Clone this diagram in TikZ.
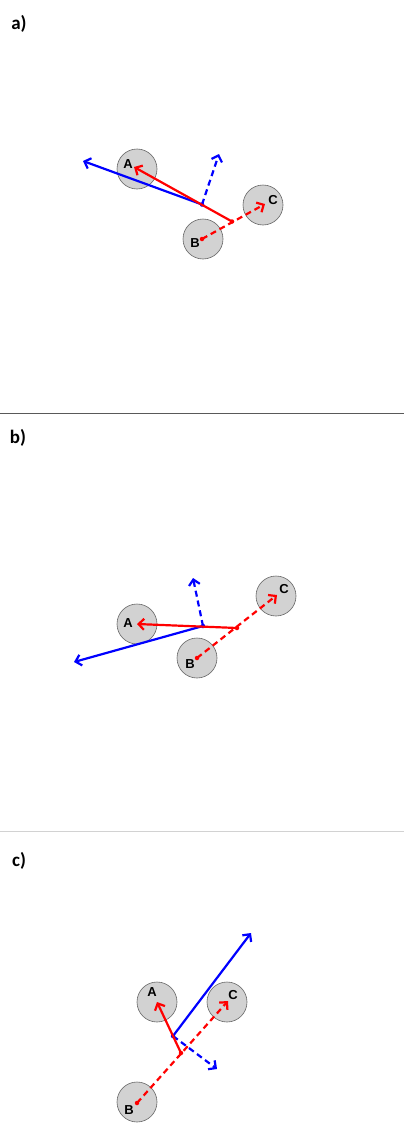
\documentclass[tikz,border=0pt]{standalone}
\usepackage{fontspec}
\setmainfont{Liberation Sans}
\newfontfamily\panelfont{Carlito}
\usetikzlibrary{arrows.meta}

\begin{document}
\begin{tikzpicture}[x=1pt,y=-1pt,line width=2.2pt,
  ball/.style={circle,draw=gray!80!black,line width=.6pt,fill=gray!35,minimum size=40pt,inner sep=0pt},
  lbl/.style={inner sep=0pt,font=\fontsize{13}{15}\selectfont\bfseries},
  panel/.style={anchor=center,inner sep=0pt,font=\panelfont\fontsize{19}{21}\selectfont\bfseries},
  tip/.style={-{Straight Barb[length=5.5pt,width=11pt]}},
  redline/.style={red,tip},
  blueline/.style={blue,tip},
  dsh/.style={dash pattern=on 6pt off 4pt},
  dot/.style={circle,fill,inner sep=0pt,minimum size=4.5pt}]
\path[use as bounding box] (0,0) rectangle (404,1124);
\fill[white] (0,0) rectangle (404,1124);
\node[panel] (pa) at (19,24) {a)};
\node[panel] (pb) at (18,438) {b)};
\node[panel] (pc) at (19,861) {c)};
\draw[gray!70!black,line width=1pt] (0,413) -- (404,413);
\draw[gray!35,line width=1pt] (0,831) -- (404,831);
\node[ball] (aA) at (137,169) {};
\node[ball] (aB) at (203,239) {};
\node[ball] (aC) at (263,205) {};
\node[lbl] at (128,164) {A};
\node[lbl] at (195,243) {B};
\node[lbl] at (273,200) {C};
\coordinate (aAt) at (134,167);
\coordinate (aBs) at (202,239);
\coordinate (aCt) at (265,204);
\coordinate (aBl) at (83,161);
\coordinate (aBd) at (219,154);
\node[dot,red] (ajr) at (232,221.5) {};
\node[dot,blue] (ajb) at (202,204.5) {};
\draw[blueline] (ajb.center) -- (aBl);
\draw[blueline,dsh] (ajb.center) -- (aBd);
\draw[redline] (ajr.center) -- (aAt);
\draw[redline,dsh] (aBs) -- (aCt);
\node[dot,red] at (aBs) {};
\node[ball] (bA) at (137,624) {};
\node[ball] (bB) at (197,658) {};
\node[ball] (bC) at (276,596) {};
\node[lbl] at (128,623) {A};
\node[lbl] at (190,664) {B};
\node[lbl] at (284,589) {C};
\coordinate (bAt) at (137,624);
\coordinate (bBs) at (197,658);
\coordinate (bCt) at (277,595);
\coordinate (bBl) at (74,662);
\coordinate (bBd) at (193,578);
\node[dot,red] (bjr) at (237,628) {};
\node[dot,blue] (bjb) at (203,626) {};
\draw[blueline] (bjb.center) -- (bBl);
\draw[blueline,dsh] (bjb.center) -- (bBd);
\draw[redline] (bjr.center) -- (bAt);
\draw[redline,dsh] (bBs) -- (bCt);
\node[dot,red] at (bBs) {};
\node[ball] (cA) at (157,1002) {};
\node[ball] (cB) at (137,1102) {};
\node[ball] (cC) at (227,1002) {};
\node[lbl] at (152,992) {A};
\node[lbl] at (129,1110) {B};
\node[lbl] at (233,995) {C};
\coordinate (cAt) at (157,1002);
\coordinate (cBs) at (137,1103);
\coordinate (cCt) at (228,1001);
\coordinate (cBl) at (251,933);
\coordinate (cBd) at (217,1069);
\node[dot,red] (cjr) at (181,1053) {};
\node[dot,blue] (cjb) at (173,1036) {};
\draw[blueline] (cjb.center) -- (cBl);
\draw[blueline,dsh] (cjb.center) -- (cBd);
\draw[redline] (cjr.center) -- (cAt);
\draw[redline,dsh] (cBs) -- (cCt);
\node[dot,red] at (cBs) {};
\end{tikzpicture}
\end{document}
